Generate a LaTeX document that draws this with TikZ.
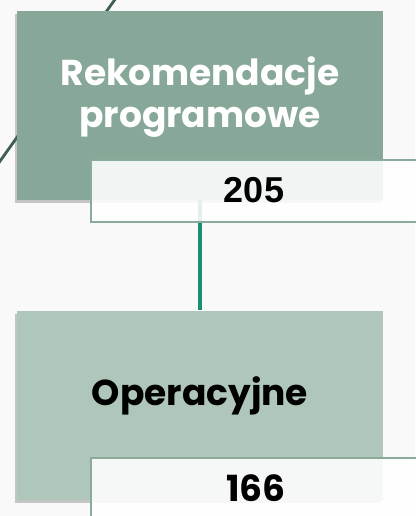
\documentclass[tikz,border=0pt]{standalone}
\usepackage{fontspec}
\setmainfont{Poppins}
\newfontfamily\arialfont{Liberation Sans}
\usetikzlibrary{shadows}
\definecolor{bgc}{HTML}{F9F9F9}
\definecolor{topgreen}{HTML}{87A898}
\definecolor{lowgreen}{HTML}{AFC6BA}
\definecolor{linkc}{HTML}{1A9071}
\definecolor{diagc}{HTML}{3E5E50}
\definecolor{framec}{HTML}{8AAA9A}
\tikzset{
  x=1pt, y=-1pt,
  mainbox/.style={rectangle, inner sep=0pt, minimum width=366pt, minimum height=189pt,
    drop shadow={shadow xshift=-2pt, shadow yshift=-3pt, opacity=0.35, fill=black!60}},
  numbox/.style={rectangle, draw=framec, line width=1.5pt, fill=white, fill opacity=0.88,
    text opacity=1, inner sep=0pt},
  bigtext/.style={font=\fontsize{36}{40}\selectfont\bfseries, anchor=base, inner sep=0pt},
  numtext/.style={font=\fontsize{36}{40}\selectfont\bfseries}
}
\begin{document}
\begin{tikzpicture}
\useasboundingbox (0,0) rectangle (415,516);
\fill[bgc] (0,0) rectangle (415,516);
% diagonal background line
\coordinate (d1) at (116,-2);
\coordinate (d2) at (-2,164);
\draw[diagc, line width=2.8pt] (d1) -- (d2);
% main boxes
\node[mainbox, fill=topgreen] (top) at (200,105.5) {};
\node[bigtext, text=white] (toplab1) at (200,86) {Rekomendacje};
\node[bigtext, text=white] (toplab2) at (200,128) {programowe};
\node[mainbox, fill=lowgreen] (low) at (200,405) {};
\node[bigtext, text=black] (lowlab) at (200,405.5) {Operacyjne};
% connector
\draw[linkc, line width=3.6pt] (top.south) -- (low.north);
% number boxes
\node[numbox, minimum width=340pt, minimum height=62pt, anchor=north west] (n1) at (90,159) {};
\node[numtext, font=\arialfont\fontsize{36}{40}\selectfont\bfseries] (t1) at (254,190) {205};
\node[numbox, minimum width=340pt, minimum height=70pt, anchor=north west] (n2) at (90,457) {};
\node[numtext] (t2) at (256,488) {166};
\end{tikzpicture}
\end{document}
